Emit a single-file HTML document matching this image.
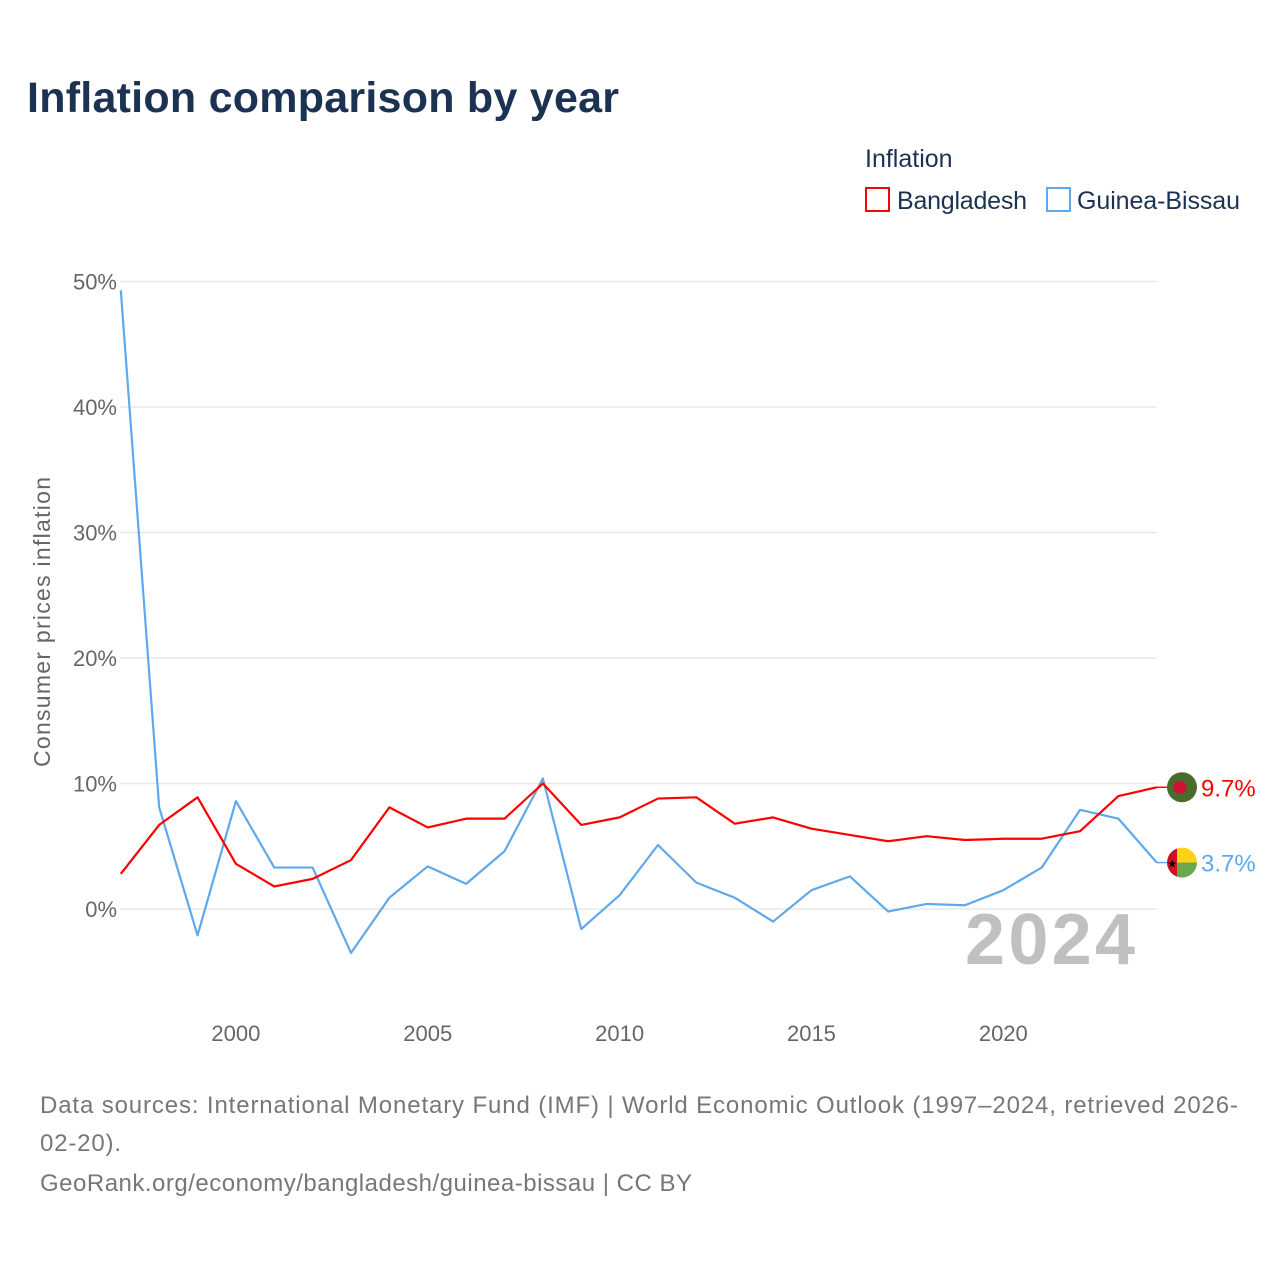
<!DOCTYPE html>
<html><head><meta charset="utf-8"><style>
body{margin:0;background:#fff;font-family:"Liberation Sans",sans-serif;}
#wrap{position:relative;width:1280px;height:1280px;overflow:hidden;}
</style></head><body>
<div id="wrap">
<svg id="svg" width="1280" height="1280" xmlns="http://www.w3.org/2000/svg" style="position:absolute;left:0;top:0">
<text x="27" y="112" font-size="43" font-weight="bold" fill="#1b3252" textLength="592">Inflation comparison by year</text>
<text x="865" y="167" font-size="25" fill="#1b3252">Inflation</text>
<g><rect x="866" y="188" width="23" height="23" fill="none" stroke="#ff0000" stroke-width="2"/><text x="897" y="209" font-size="25" fill="#1b3252" textLength="130">Bangladesh</text></g>
<g><rect x="1047" y="188" width="23" height="23" fill="none" stroke="#5ea9ee" stroke-width="2"/><text x="1077" y="209" font-size="25" fill="#1b3252" textLength="163">Guinea-Bissau</text></g>
<text transform="translate(50,622) rotate(-90)" text-anchor="middle" font-size="23" fill="#666" textLength="290">Consumer prices inflation</text>
<g id="grid"></g><g id="xt"></g><g id="series"></g>
<text x="1135" y="964" text-anchor="end" font-size="72" font-weight="bold" fill="#c0c0c0" textLength="170">2024</text>
<text x="40" y="1113" font-size="24" fill="#777" textLength="1198">Data sources: International Monetary Fund (IMF) | World Economic Outlook (1997–2024, retrieved 2026-</text>
<text x="40" y="1151" font-size="24" fill="#777" textLength="81">02-20).</text>
<text x="40" y="1191" font-size="24" fill="#777" textLength="652">GeoRank.org/economy/bangladesh/guinea-bissau | CC BY</text>
</svg>
</div>
<script>
const years=[1997,1998,1999,2000,2001,2002,2003,2004,2005,2006,2007,2008,2009,2010,2011,2012,2013,2014,2015,2016,2017,2018,2019,2020,2021,2022,2023,2024];
const bangladesh=[2.8,6.7,8.9,3.6,1.8,2.4,3.9,8.1,6.5,7.2,7.2,10.0,6.7,7.3,8.8,8.9,6.8,7.3,6.4,5.9,5.4,5.8,5.5,5.6,5.6,6.2,9.0,9.7];
const guinea=[49.3,8.1,-2.1,8.6,3.3,3.3,-3.5,0.9,3.4,2.0,4.6,10.4,-1.6,1.1,5.1,2.1,0.9,-1.0,1.5,2.6,-0.2,0.4,0.3,1.5,3.3,7.9,7.2,3.7];
const yTicks=[0,10,20,30,40,50];
const xTicks=[2000,2005,2010,2015,2020];
const NS="http://www.w3.org/2000/svg";
const X=y=>120.8+(y-1997)*38.37;
const Y=v=>909-v*12.55;
function mk(t,a,p){const e=document.createElementNS(NS,t);for(const k in a)e.setAttribute(k,a[k]);p.appendChild(e);return e;}
const grid=document.getElementById('grid');
yTicks.forEach(t=>{
 const l=mk('line',{x1:120,x2:1157,y1:Y(t),y2:Y(t),stroke:'#e8e8e8','stroke-width':1.5},grid);
 
 
 const tx=mk('text',{x:117,y:Y(t)+8,'text-anchor':'end','font-size':22,fill:'#666'},grid);
 tx.textContent=t+'%';
 
 
});
const xt=document.getElementById('xt');
xTicks.forEach(t=>{
 const tx=mk('text',{x:X(t),y:1041,'text-anchor':'middle','font-size':22,fill:'#666'},xt);
 tx.textContent=t;
 
 
});
const sg=document.getElementById('series');
function line(vals,color,name){
 const p=mk('polyline',{points:vals.map((v,i)=>X(years[i])+','+Y(v)).join(' '),fill:'none',stroke:color,'stroke-width':2.2,'stroke-linejoin':'round'},sg);
 
 
}
line(guinea,'#5ea9ee','line-guinea-bissau');
line(bangladesh,'#ff0000','line-bangladesh');
const last=years.length-1, fx=1182;
mk('line',{x1:X(years[last]),x2:fx-14,y1:Y(bangladesh[last]),y2:Y(bangladesh[last]),stroke:'#ff0000','stroke-width':1.5},sg);
mk('line',{x1:X(years[last]),x2:fx-14,y1:Y(guinea[last]),y2:Y(guinea[last]),stroke:'#5ea9ee','stroke-width':1.5},sg);
const by=Y(bangladesh[last]);
const bf=mk('g',{},sg);


mk('circle',{cx:fx,cy:by,r:15,fill:'#4a6b2c'},bf);
mk('circle',{cx:fx-2,cy:by,r:6.5,fill:'#d21034'},bf);
const bl=mk('text',{x:1201,y:by+9,'font-size':24,fill:'#ff0000'},sg);
bl.textContent=bangladesh[last].toFixed(1)+'%';


const gy=Y(guinea[last]);
const gf=mk('g',{},sg);


mk('defs',{},gf).innerHTML='<clipPath id="gc"><circle cx="'+fx+'" cy="'+gy+'" r="15"/></clipPath>';
const gg=mk('g',{'clip-path':'url(#gc)'},gf);
mk('rect',{x:fx-15,y:gy-15,width:10,height:30,fill:'#ce1126'},gg);
mk('rect',{x:fx-5,y:gy-15,width:20,height:15,fill:'#fcd116'},gg);
mk('rect',{x:fx-5,y:gy,width:20,height:15,fill:'#6aa84f'},gg);
const st=mk('text',{x:fx-10,y:gy+5,'font-size':11,'text-anchor':'middle',fill:'#000'},gf);st.textContent='★';
const gl=mk('text',{x:1201,y:gy+9,'font-size':24,fill:'#5ea9ee'},sg);
gl.textContent=guinea[last].toFixed(1)+'%';


</script>
</body></html>
